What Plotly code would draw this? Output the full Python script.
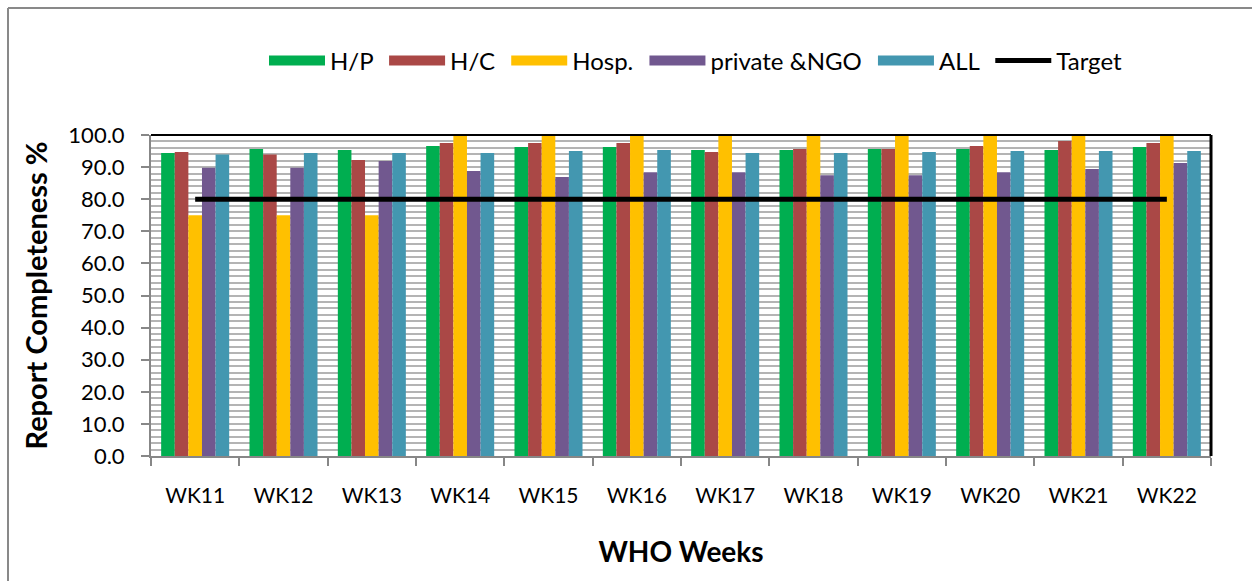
import plotly.graph_objects as go

weeks = ["WK11", "WK12", "WK13", "WK14", "WK15", "WK16",
         "WK17", "WK18", "WK19", "WK20", "WK21", "WK22"]

hp = [94.4, 95.6, 95.3, 96.6, 96.3, 96.3, 95.3, 95.3, 95.6, 95.6, 95.3, 96.3]
hc = [94.7, 93.9, 92.2, 97.5, 97.5, 97.5, 94.7, 95.6, 95.6, 96.6, 98.1, 97.5]
hosp = [75.0, 75.0, 75.0, 100.0, 100.0, 100.0, 100.0, 100.0, 100.0, 100.0, 100.0, 100.0]
private_ngo = [89.8, 89.8, 91.9, 88.8, 86.9, 88.4, 88.4, 87.5, 87.5, 88.4, 89.4, 91.3]
all_sites = [93.9, 94.4, 94.4, 94.4, 95.0, 95.3, 94.4, 94.4, 94.7, 95.0, 95.0, 95.0]
target = [80.0] * len(weeks)

series = [
    ("H/P", hp, "#00AE50"),
    ("H/C", hc, "#AA4846"),
    ("Hosp.", hosp, "#FFC000"),
    ("private &NGO", private_ngo, "#71588F"),
    ("ALL", all_sites, "#4397B0"),
]

FONT = "Lato, Carlito, Calibri, sans-serif"

fig = go.Figure()
for name, vals, color in series:
    fig.add_trace(go.Bar(x=weeks, y=vals, name=name, marker_color=color,
                         marker_line_width=0, legendgroup=name,
                         showlegend=False))

fig.add_trace(go.Scatter(x=weeks, y=target, name="Target", mode="lines",
                         line=dict(color="black", width=5), showlegend=False))

# legend keys: wide colour swatches for the bars, thick line for the target
for name, _, color in series:
    fig.add_trace(go.Scatter(x=[None], y=[None], mode="lines", name=name + " ",
                             legendgroup=name,
                             line=dict(color=color, width=13)))
fig.add_trace(go.Scatter(x=[None], y=[None], mode="lines", name="Target",
                         line=dict(color="black", width=5)))

# plot area spans pixels x 151..1211, y 135..456
L, R, T, B = 151, 41, 135, 125
W = 1252 - L - R
H = 581 - T - B


def px_x(p):
    return (p - L) / W


def px_y(p):
    return (581 - B - p) / H


grid = "#B4B4B4"
axis_grey = "#878787"

fig.update_layout(
    width=1252, height=581,
    margin=dict(l=L, r=R, t=T, b=B),
    paper_bgcolor="white", plot_bgcolor="white",
    barmode="group", bargap=0.23, bargroupgap=0,
    font=dict(family=FONT, color="black", size=20),
    showlegend=True,
    legend=dict(orientation="h", x=px_x(264), xanchor="left",
                y=px_y(61), yanchor="middle", font=dict(size=24),
                traceorder="normal", itemwidth=56,
                bgcolor="rgba(0,0,0,0)"),
    xaxis=dict(
        type="category", tickson="boundaries", ticks="outside", ticklen=8,
        tickcolor=axis_grey, tickwidth=2,
        showline=True, linecolor=axis_grey, linewidth=2,
        tickfont=dict(size=21), showgrid=False, ticklabelstandoff=20,
        title=dict(text="<b>WHO Weeks</b>", font=dict(size=28), standoff=36),
    ),
    yaxis=dict(
        range=[0, 100], dtick=10, tickformat=".1f", ticks="outside",
        ticklen=8, tickcolor=axis_grey, tickwidth=2,
        showline=True, linecolor=axis_grey, linewidth=2,
        tickfont=dict(size=22), ticklabelstandoff=12,
        showgrid=True, gridcolor=grid, gridwidth=2,
        minor=dict(dtick=2, showgrid=True, gridcolor=grid, gridwidth=2),
        zeroline=False,
        title=dict(text="<b>Report Completeness %</b>", font=dict(size=29),
                   standoff=12),
    ),
    shapes=[
        # black frame on the top and right edges of the plot area
        dict(type="line", xref="paper", yref="paper", x0=0, x1=1, y0=1, y1=1,
             line=dict(color="black", width=2), layer="above"),
        dict(type="line", xref="paper", yref="paper", x0=1, x1=1, y0=0, y1=1,
             line=dict(color="black", width=3), layer="above"),
        # outer chart border (left and top)
        dict(type="line", xref="paper", yref="paper",
             x0=px_x(8), x1=px_x(8), y0=px_y(590), y1=px_y(8),
             line=dict(color="#898989", width=2)),
        dict(type="line", xref="paper", yref="paper",
             x0=px_x(8), x1=px_x(1260), y0=px_y(8), y1=px_y(8),
             line=dict(color="#898989", width=2)),
    ],
)

fig.write_html("out.html")
